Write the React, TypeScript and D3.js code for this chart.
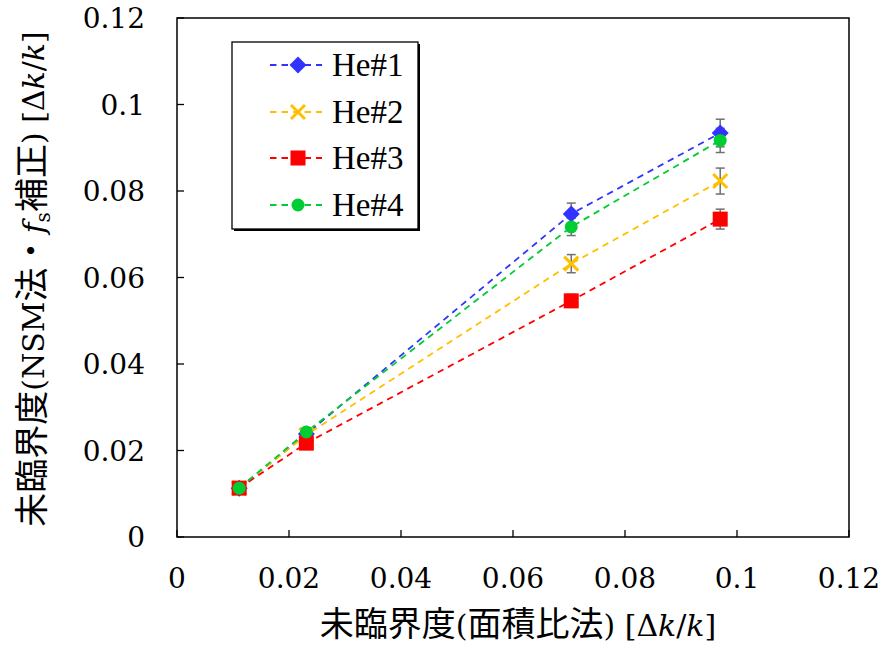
import React from "react";
import * as d3 from "d3";

const xValues = [0.0111, 0.0231, 0.0704, 0.097];
const he1 = [0.0113, 0.0238, 0.0747, 0.0934];
const he2 = [0.0113, 0.0236, 0.0632, 0.0823];
const he3 = [0.0113, 0.0217, 0.0546, 0.0735];
const he4 = [0.0113, 0.0243, 0.0717, 0.0917];
const he1Err = [0.0006, 0.0008, 0.0025, 0.0032];
const he2Err = [0.0006, 0.0008, 0.0021, 0.003];
const he3Err = [0.0006, 0.0008, 0.0015, 0.0023];
const he4Err = [0.0006, 0.0008, 0.002, 0.0028];
const seriesNames = ["He#1", "He#2", "He#3", "He#4"];
const xTicks = [0, 0.02, 0.04, 0.06, 0.08, 0.1, 0.12];
const yTicks = [0, 0.02, 0.04, 0.06, 0.08, 0.1, 0.12];

const colors = ["#3333FF", "#FFC000", "#FF0000", "#00CC33"];
const shapes = ["diamond", "x", "square", "circle"];
const SERIF = "Liberation Serif";
const DSERIF = "DejaVu Serif";
const CJK = "Noto Sans CJK JP";

function Marker({ shape, color, x, y }: { shape: string; color: string; x: number; y: number }) {
  if (shape === "diamond") {
    const s = 8.5;
    return <path d={`M${x},${y - s}L${x + s},${y}L${x},${y + s}L${x - s},${y}Z`} fill={color} />;
  }
  if (shape === "square") {
    const s = 7.5;
    return <rect x={x - s} y={y - s} width={2 * s} height={2 * s} fill={color} />;
  }
  if (shape === "circle") {
    return <circle cx={x} cy={y} r={6.5} fill={color} />;
  }
  const s = 7;
  return (
    <path
      d={`M${x - s},${y - s}L${x + s},${y + s}M${x - s},${y + s}L${x + s},${y - s}`}
      stroke={color}
      strokeWidth={3}
      fill="none"
    />
  );
}

export default function App() {
  const W = 884, H = 648;
  const left = 177, right = 849, top = 18, bottom = 537;
  const x = d3.scaleLinear().domain([0, 0.12]).range([left, right]);
  const y = d3.scaleLinear().domain([0, 0.12]).range([bottom, top]);
  const series = [
    { name: seriesNames[0], vals: he1, err: he1Err },
    { name: seriesNames[1], vals: he2, err: he2Err },
    { name: seriesNames[2], vals: he3, err: he3Err },
    { name: seriesNames[3], vals: he4, err: he4Err },
  ];
  const line = d3
    .line<number>()
    .x((_, i) => x(xValues[i]))
    .y((d) => y(d));
  const fmt = (v: number) => (v === 0 ? "0" : String(+v.toFixed(2)));

  const legendX = 232, legendY = 42, legendW = 186, legendH = 187;
  const rowY = [65, 112, 158, 205];
  const cj = 34, lt = 30;

  return (
    <svg width={W} height={H} style={{ position: "absolute", left: 0, top: 0, background: "#fff" }}>
      <rect x={0} y={0} width={W} height={H} fill="#fff" />
      {/* axes box */}
      <rect x={left} y={top} width={right - left} height={bottom - top} fill="none" stroke="#000" strokeWidth={1.5} />
      {yTicks.map((t) => (
        <g key={"y" + t}>
          <line x1={left} x2={left + 7} y1={y(t)} y2={y(t)} stroke="#000" strokeWidth={1.3} />
          <text x={145} y={y(t)} dy="0.36em" textAnchor="end" fontSize={28} fontFamily={DSERIF}>
            {fmt(t)}
          </text>
        </g>
      ))}
      {xTicks.map((t) => (
        <g key={"x" + t}>
          <line x1={x(t)} x2={x(t)} y1={bottom} y2={bottom - 7} stroke="#000" strokeWidth={1.3} />
          <text x={x(t)} y={588} textAnchor="middle" fontSize={28} fontFamily={DSERIF}>
            {fmt(t)}
          </text>
        </g>
      ))}
      {/* axis titles */}
      <text x={518} y={636} textAnchor="middle" fontSize={cj}>
        <tspan fontFamily={CJK}>未臨界度</tspan>
        <tspan fontFamily={DSERIF} fontSize={lt}>(</tspan>
        <tspan fontFamily={CJK}>面積比法</tspan>
        <tspan fontFamily={DSERIF} fontSize={lt}>) [Δ</tspan>
        <tspan fontFamily={DSERIF} fontSize={lt} fontStyle="italic">k</tspan>
        <tspan fontFamily={DSERIF} fontSize={lt}>/</tspan>
        <tspan fontFamily={DSERIF} fontSize={lt} fontStyle="italic">k</tspan>
        <tspan fontFamily={DSERIF} fontSize={lt}>]</tspan>
      </text>
      <text transform="translate(44,279) rotate(-90)" textAnchor="middle" fontSize={cj}>
        <tspan fontFamily={CJK}>未臨界度</tspan>
        <tspan fontFamily={DSERIF} fontSize={lt}>(NSM</tspan>
        <tspan fontFamily={CJK}>法・</tspan>
        <tspan fontFamily={DSERIF} fontSize={lt} fontStyle="italic">f</tspan>
        <tspan fontFamily={DSERIF} fontSize={20} dy={6}>s</tspan>
        <tspan fontFamily={CJK} dy={-6}>補正</tspan>
        <tspan fontFamily={DSERIF} fontSize={lt}>) [Δ</tspan>
        <tspan fontFamily={DSERIF} fontSize={lt} fontStyle="italic">k</tspan>
        <tspan fontFamily={DSERIF} fontSize={lt}>/</tspan>
        <tspan fontFamily={DSERIF} fontSize={lt} fontStyle="italic">k</tspan>
        <tspan fontFamily={DSERIF} fontSize={lt}>]</tspan>
      </text>
      {/* lines */}
      {series.map((s, si) => (
        <path
          key={"l" + si}
          d={line(s.vals) || ""}
          fill="none"
          stroke={colors[si]}
          strokeWidth={1.8}
          strokeDasharray="6.5,5"
        />
      ))}
      {/* error bars */}
      {series.map((s, si) =>
        s.vals.map((v, i) => {
          const cx = x(xValues[i]);
          const y1 = y(v + s.err[i]);
          const y2 = y(v - s.err[i]);
          return (
            <g key={"e" + si + "-" + i} stroke="#707070" strokeWidth={1.5}>
              <line x1={cx} x2={cx} y1={y1} y2={y2} />
              <line x1={cx - 4.5} x2={cx + 4.5} y1={y1} y2={y1} />
              <line x1={cx - 4.5} x2={cx + 4.5} y1={y2} y2={y2} />
            </g>
          );
        })
      )}
      {/* markers */}
      {series.map((s, si) =>
        s.vals.map((v, i) => (
          <Marker key={"m" + si + "-" + i} shape={shapes[si]} color={colors[si]} x={x(xValues[i])} y={y(v)} />
        ))
      )}
      {/* legend */}
      <rect x={legendX + 2} y={legendY + 2} width={legendW} height={legendH} fill="#000" />
      <rect x={legendX} y={legendY} width={legendW} height={legendH} fill="#fff" stroke="#000" strokeWidth={1.3} />
      {series.map((s, si) => (
        <g key={"lg" + si}>
          <line x1={270} x2={322} y1={rowY[si]} y2={rowY[si]} stroke={colors[si]} strokeWidth={1.8} strokeDasharray="6.5,5" />
          <Marker shape={shapes[si]} color={colors[si]} x={298} y={rowY[si]} />
          <text x={332} y={rowY[si]} dy="0.34em" fontSize={33} fontFamily={SERIF}>
            {s.name}
          </text>
        </g>
      ))}
    </svg>
  );
}
